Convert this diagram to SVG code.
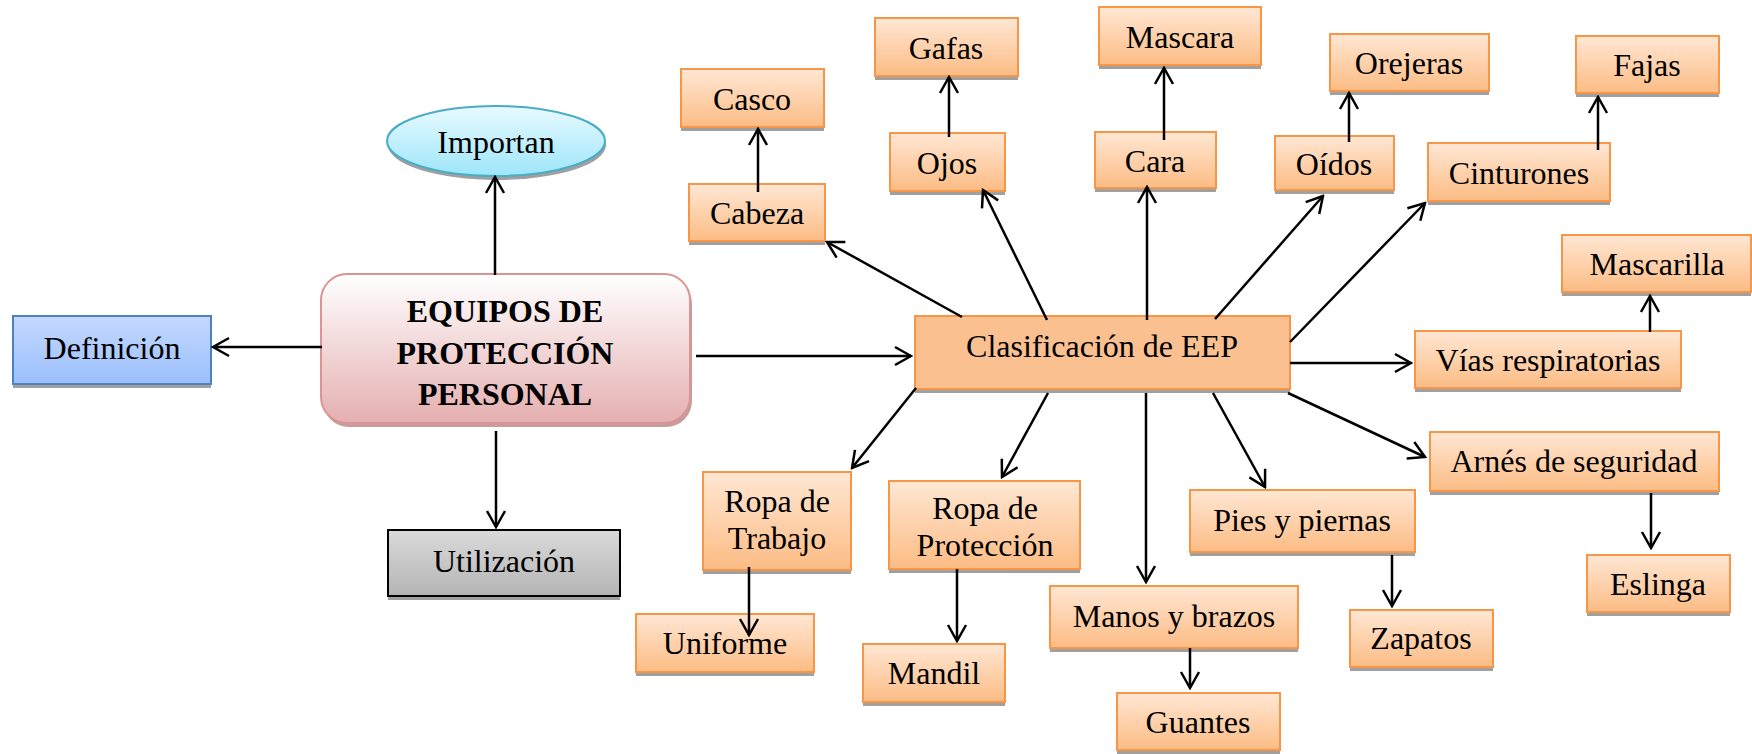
<svg xmlns="http://www.w3.org/2000/svg" width="1752" height="754" viewBox="0 0 1752 754">
<defs>
<linearGradient id="gOr" x1="0" y1="0" x2="0" y2="1"><stop offset="0" stop-color="#FFE7D4"/><stop offset="1" stop-color="#FCBC84"/></linearGradient>
<linearGradient id="gMain" x1="0" y1="0" x2="0" y2="1"><stop offset="0" stop-color="#FFFFFF"/><stop offset="1" stop-color="#E5AFB0"/></linearGradient>
<linearGradient id="gCy" x1="0" y1="0" x2="0" y2="1"><stop offset="0" stop-color="#E8FAFF"/><stop offset="1" stop-color="#9EE6FA"/></linearGradient>
<linearGradient id="gBl" x1="0" y1="0" x2="0" y2="1"><stop offset="0" stop-color="#C4D9FF"/><stop offset="1" stop-color="#9BBFFD"/></linearGradient>
<linearGradient id="gGr" x1="0" y1="0" x2="0" y2="1"><stop offset="0" stop-color="#DADADA"/><stop offset="1" stop-color="#B4B4B4"/></linearGradient>
<marker id="arr" viewBox="-18 -11 20 22" markerWidth="20" markerHeight="22" refX="0" refY="0" orient="auto" markerUnits="userSpaceOnUse">
<path d="M-16,-9 L0,0 L-16,9" fill="none" stroke="#000" stroke-width="2.5"/>
</marker>
</defs>
<style>
.sh{fill:#A0A0A0}
.ob{fill:url(#gOr);stroke:#F79646;stroke-width:2}
.t{font-family:"Liberation Serif","Times New Roman",serif;font-size:32px;fill:#000;text-anchor:middle}
.tb{font-family:"Liberation Serif","Times New Roman",serif;font-size:32px;font-weight:bold;fill:#000;text-anchor:middle}
.c line{stroke:#000;stroke-width:2.5;marker-end:url(#arr)}
</style>

<g id="importan">
<ellipse cx="497" cy="145" rx="109" ry="35" class="sh"/>
<ellipse cx="496" cy="141" rx="109" ry="35" fill="url(#gCy)" stroke="#4BACC6" stroke-width="2"/>
<text x="496" y="153" class="t">Importan</text>
</g>
<g id="equipos">
<rect x="323" y="278" width="369" height="149" rx="26" fill="#C89C9C"/>
<rect x="321" y="274" width="369" height="149" rx="26" fill="url(#gMain)" stroke="#D99594" stroke-width="2"/>
<text x="505" y="322" class="tb">EQUIPOS DE</text>
<text x="505" y="364" class="tb">PROTECCIÓN</text>
<text x="505" y="405" class="tb">PERSONAL</text>
</g>
<g id="definicion">
<rect x="13" y="320" width="198" height="68" class="sh"/>
<rect x="13" y="316" width="198" height="68" fill="url(#gBl)" stroke="#4F81BD" stroke-width="2"/>
<text x="112" y="359" class="t">Definición</text>
</g>
<g id="utilizacion">
<rect x="388" y="534" width="232" height="66" class="sh"/>
<rect x="388" y="530" width="232" height="66" fill="url(#gGr)" stroke="#000" stroke-width="2"/>
<text x="504" y="572" class="t">Utilización</text>
</g>
<g id="clasificacion">
<rect x="915" y="320" width="375" height="73" class="sh"/>
<rect x="915" y="316" width="375" height="73" fill="#FAC090" stroke="#F79646" stroke-width="2"/>
<text x="1102" y="357" class="t">Clasificación de EEP</text>
</g>
<g id="casco"><rect x="681" y="73" width="143" height="58" class="sh"/><rect x="681" y="69" width="143" height="58" class="ob"/><text x="752" y="110" class="t">Casco</text></g>
<g id="cabeza"><rect x="689" y="188" width="136" height="57" class="sh"/><rect x="689" y="184" width="136" height="57" class="ob"/><text x="757" y="224" class="t">Cabeza</text></g>
<g id="gafas"><rect x="875" y="22" width="143" height="58" class="sh"/><rect x="875" y="18" width="143" height="58" class="ob"/><text x="946" y="59" class="t">Gafas</text></g>
<g id="ojos"><rect x="890" y="137" width="115" height="58" class="sh"/><rect x="890" y="133" width="115" height="58" class="ob"/><text x="947" y="174" class="t">Ojos</text></g>
<g id="mascara"><rect x="1099" y="11" width="162" height="58" class="sh"/><rect x="1099" y="7" width="162" height="58" class="ob"/><text x="1180" y="48" class="t">Mascara</text></g>
<g id="cara"><rect x="1095" y="136" width="121" height="56" class="sh"/><rect x="1095" y="132" width="121" height="56" class="ob"/><text x="1155" y="172" class="t">Cara</text></g>
<g id="orejeras"><rect x="1330" y="38" width="159" height="57" class="sh"/><rect x="1330" y="34" width="159" height="57" class="ob"/><text x="1409" y="74" class="t">Orejeras</text></g>
<g id="oidos"><rect x="1275" y="140" width="119" height="54" class="sh"/><rect x="1275" y="136" width="119" height="54" class="ob"/><text x="1334" y="175" class="t">Oídos</text></g>
<g id="fajas"><rect x="1576" y="40" width="143" height="57" class="sh"/><rect x="1576" y="36" width="143" height="57" class="ob"/><text x="1647" y="76" class="t">Fajas</text></g>
<g id="cinturones"><rect x="1428" y="147" width="182" height="58" class="sh"/><rect x="1428" y="143" width="182" height="58" class="ob"/><text x="1519" y="184" class="t">Cinturones</text></g>
<g id="mascarilla"><rect x="1562" y="239" width="189" height="57" class="sh"/><rect x="1562" y="235" width="189" height="57" class="ob"/><text x="1657" y="275" class="t">Mascarilla</text></g>
<g id="vias"><rect x="1415" y="335" width="266" height="57" class="sh"/><rect x="1415" y="331" width="266" height="57" class="ob"/><text x="1548" y="371" class="t">Vías respiratorias</text></g>
<g id="arnes"><rect x="1430" y="436" width="289" height="59" class="sh"/><rect x="1430" y="432" width="289" height="59" class="ob"/><text x="1574" y="472" class="t">Arnés de seguridad</text></g>
<g id="pies"><rect x="1190" y="494" width="225" height="62" class="sh"/><rect x="1190" y="490" width="225" height="62" class="ob"/><text x="1302" y="531" class="t">Pies y piernas</text></g>
<g id="zapatos"><rect x="1350" y="614" width="143" height="57" class="sh"/><rect x="1350" y="610" width="143" height="57" class="ob"/><text x="1421" y="649" class="t">Zapatos</text></g>
<g id="eslinga"><rect x="1587" y="559" width="143" height="57" class="sh"/><rect x="1587" y="555" width="143" height="57" class="ob"/><text x="1658" y="595" class="t">Eslinga</text></g>
<g id="ropa-trabajo"><rect x="703" y="476" width="148" height="98" class="sh"/><rect x="703" y="472" width="148" height="98" class="ob"/><text x="777" y="512" class="t">Ropa de</text><text x="777" y="549" class="t">Trabajo</text></g>
<g id="ropa-proteccion"><rect x="889" y="485" width="191" height="88" class="sh"/><rect x="889" y="481" width="191" height="88" class="ob"/><text x="985" y="519" class="t">Ropa de</text><text x="985" y="556" class="t">Protección</text></g>
<g id="uniforme"><rect x="636" y="618" width="178" height="58" class="sh"/><rect x="636" y="614" width="178" height="58" class="ob"/><text x="725" y="654" class="t">Uniforme</text></g>
<g id="mandil"><rect x="863" y="648" width="142" height="58" class="sh"/><rect x="863" y="644" width="142" height="58" class="ob"/><text x="934" y="684" class="t">Mandil</text></g>
<g id="manos"><rect x="1050" y="590" width="248" height="62" class="sh"/><rect x="1050" y="586" width="248" height="62" class="ob"/><text x="1174" y="627" class="t">Manos y brazos</text></g>
<g id="guantes"><rect x="1117" y="697" width="163" height="57" class="sh"/><rect x="1117" y="693" width="163" height="57" class="ob"/><text x="1198" y="733" class="t">Guantes</text></g>

<g id="connectors" class="c">
<line x1="495" y1="275" x2="495" y2="177"/>
<line x1="322" y1="347" x2="213" y2="347"/>
<line x1="496" y1="431" x2="496" y2="527"/>
<line x1="696" y1="356" x2="911" y2="356"/>
<line x1="758" y1="192" x2="758" y2="129"/>
<line x1="949" y1="137" x2="949" y2="77"/>
<line x1="1164" y1="140" x2="1164" y2="68"/>
<line x1="962" y1="317" x2="827" y2="242"/>
<line x1="1047" y1="320" x2="983" y2="190"/>
<line x1="1147" y1="320" x2="1147" y2="187"/>
<line x1="1349" y1="142" x2="1349" y2="93"/>
<line x1="1598" y1="150" x2="1598" y2="97"/>
<line x1="1650" y1="332" x2="1650" y2="296"/>
<line x1="1215" y1="319" x2="1323" y2="196"/>
<line x1="1290" y1="342" x2="1425" y2="203"/>
<line x1="1290" y1="363" x2="1411" y2="363"/>
<line x1="1288" y1="393" x2="1425" y2="457"/>
<line x1="1213" y1="393" x2="1265" y2="487"/>
<line x1="1392" y1="555" x2="1392" y2="606"/>
<line x1="1651" y1="493" x2="1651" y2="548"/>
<line x1="1190" y1="648" x2="1190" y2="688"/>
<line x1="916" y1="388" x2="852" y2="468"/>
<line x1="1048" y1="393" x2="1002" y2="477"/>
<line x1="1146" y1="393" x2="1146" y2="582"/>
<line x1="749" y1="567" x2="749" y2="635"/>
<line x1="957" y1="569" x2="957" y2="641"/>
</g>
</svg>
